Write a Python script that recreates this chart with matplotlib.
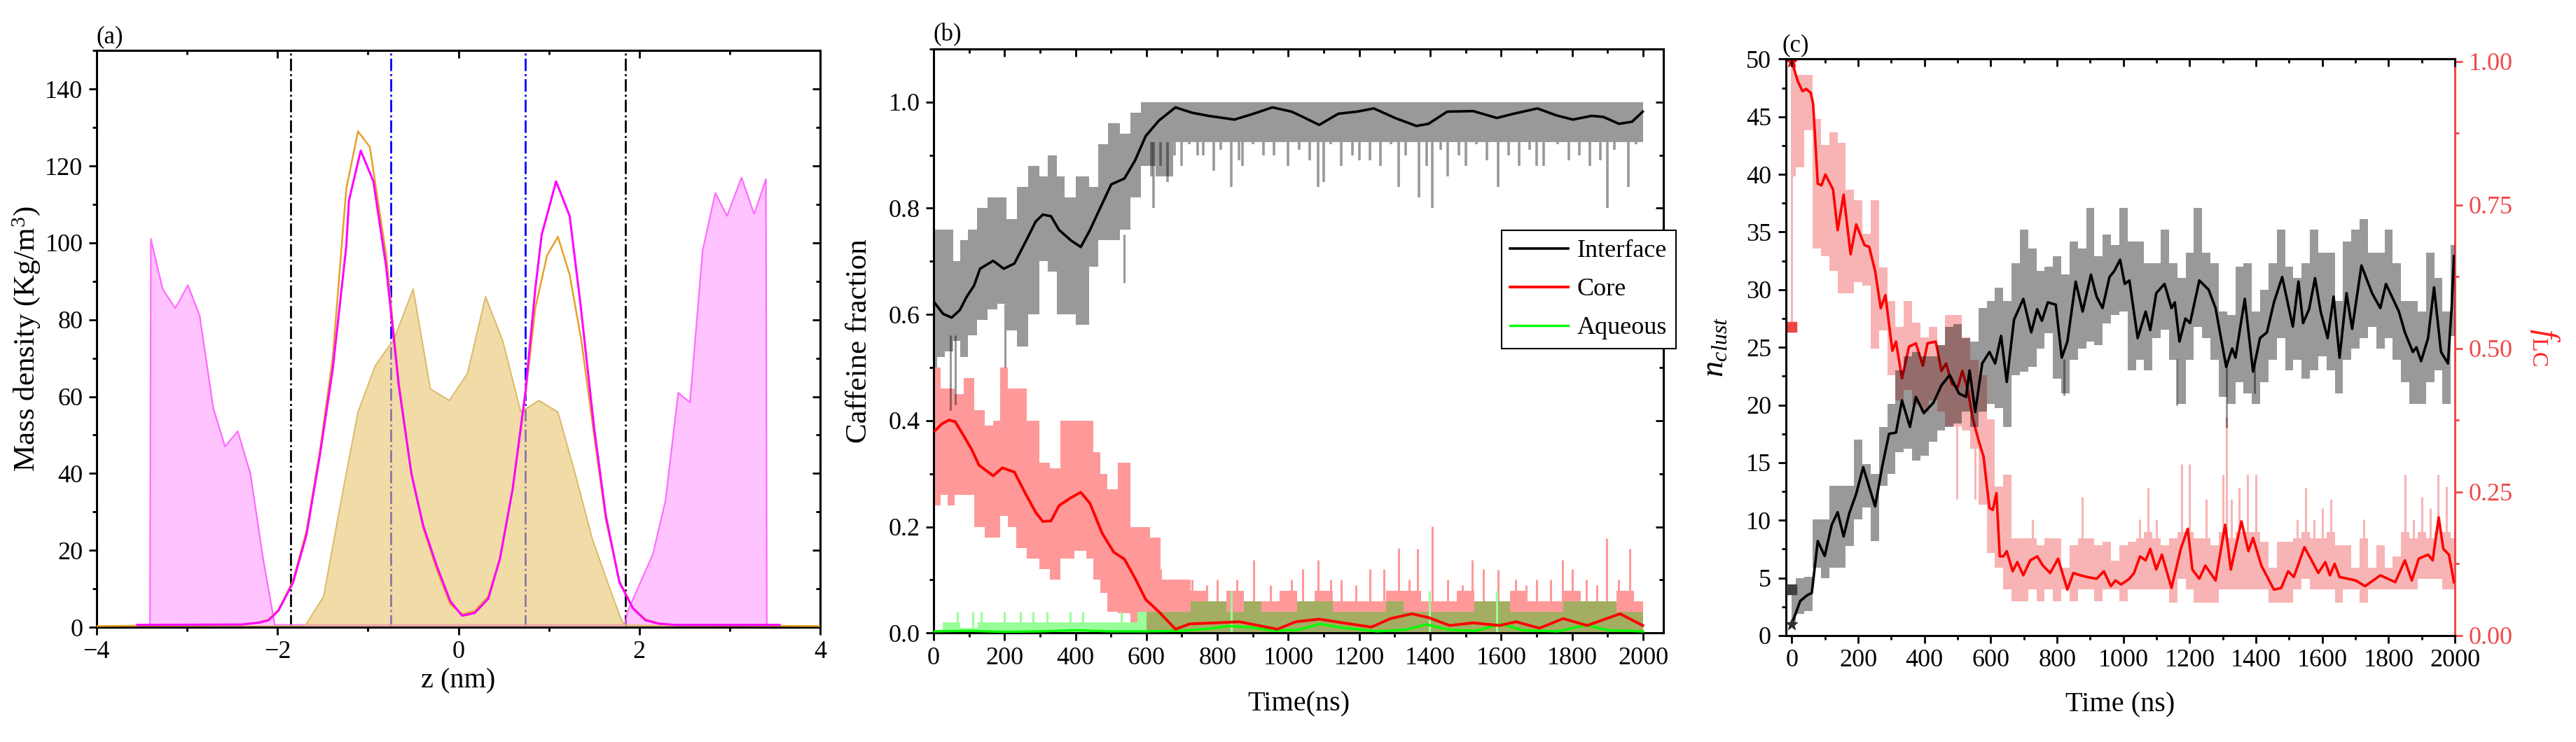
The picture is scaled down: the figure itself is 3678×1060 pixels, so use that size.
import numpy as np
import matplotlib
matplotlib.use('Agg')
import matplotlib.pyplot as plt
from matplotlib.ticker import MultipleLocator, NullFormatter
from matplotlib.lines import Line2D

plt.rcParams['font.family'] = ['Liberation Serif', 'DejaVu Serif']
plt.rcParams['mathtext.fontset'] = 'custom'
plt.rcParams['mathtext.rm'] = 'Liberation Serif'
plt.rcParams['mathtext.it'] = 'Liberation Serif:italic'

# ---------------- panel (a): mass density profiles ----------------
PINK_Z = [-3.55, -3.41, -3.40, -3.27, -3.13, -2.99, -2.86, -2.71, -2.58, -2.44, -2.30, -2.16, -2.03,
          -1.90, 1.84, 1.87, 1.99, 2.15, 2.29, 2.43, 2.56, 2.70, 2.84, 2.97, 3.13, 3.27, 3.40, 3.41, 3.55]
PINK_RHO = [0.6, 0.6, 101, 88, 83, 89, 81, 57, 47, 51, 40, 18, 0.6,
            0.6, 0.6, 4, 10.5, 19, 33, 61, 58.5, 98, 113, 107, 117, 107.5, 116.6, 0.6, 0.6]

TAN_Z = [-4.0, -1.72, -1.69, -1.49, -1.32, -1.11, -0.92, -0.71, -0.50, -0.31, -0.10, 0.10, 0.30,
         0.49, 0.69, 0.89, 1.10, 1.29, 1.48, 1.69, 1.80, 1.84, 4.0]
TAN_RHO = [0.3, 0.3, 0.5, 8, 30, 56, 68, 75, 88, 62, 59, 66, 86,
           74.5, 56, 59, 56, 40, 23, 9, 2, 0.5, 0.3]

MAG_Z = [-3.55, -2.40, -2.20, -2.10, -1.99, -1.83, -1.68, -1.53, -1.39, -1.24, -1.21, -1.08, -0.94,
         -0.80, -0.66, -0.52, -0.39, -0.24, -0.09, 0.04, 0.18, 0.33, 0.46, 0.60, 0.74, 0.85, 0.92,
         1.08, 1.23, 1.35, 1.50, 1.63, 1.78, 1.93, 2.07, 2.22, 2.40, 3.55]
MAG_RHO = [0.6, 0.7, 1.2, 1.8, 4.3, 11.5, 24, 45, 67, 99, 111, 124, 116,
           94, 63, 40, 26.5, 16, 6.8, 3, 3.7, 7.4, 17.9, 36, 61, 88, 102,
           116, 107, 84, 52, 29, 11.7, 4.9, 1.8, 0.9, 0.6, 0.6]

ORA_Z = [-4.0, -2.40, -2.20, -2.10, -1.99, -1.83, -1.68, -1.53, -1.39, -1.24, -1.11, -0.98, -0.80,
         -0.66, -0.52, -0.39, -0.24, -0.09, 0.04, 0.18, 0.33, 0.46, 0.60, 0.74, 0.85, 0.98, 1.10,
         1.23, 1.36, 1.50, 1.63, 1.78, 1.93, 2.07, 2.22, 2.40, 4.0]
ORA_RHO = [0.3, 0.6, 1.3, 2, 4.5, 12, 25, 46, 70, 114, 129, 125, 97,
           64, 40, 26, 15, 6, 3.4, 4.2, 8, 18, 36, 60, 83, 96.7, 101.6,
           91.7, 74.5, 50, 28, 12, 5, 2, 1, 0.5, 0.3]

BLACK_VLINES = [-1.855, 1.843]
BLUE_VLINES = [-0.747, 0.74]

# ---------------- panel (b): caffeine fractions ----------------
T_INT = [4, 27, 51, 74, 94, 114, 131, 168, 198, 228, 261, 288, 308, 331, 354, 388, 415, 441, 468, 501,
         538, 568, 598, 635, 682, 728, 775, 848, 902, 955, 1009, 1041, 1087, 1141, 1194, 1241, 1301,
         1361, 1395, 1448, 1521, 1588, 1635, 1702, 1755, 1802, 1855, 1888, 1932, 1969, 1999]
INT_SMOOTH = [0.621, 0.601, 0.594, 0.608, 0.634, 0.654, 0.686, 0.701, 0.686, 0.696, 0.739, 0.775, 0.788,
              0.785, 0.759, 0.739, 0.727, 0.759, 0.798, 0.845, 0.856, 0.890, 0.936, 0.965, 0.990, 0.980,
              0.974, 0.967, 0.978, 0.990, 0.982, 0.972, 0.957, 0.978, 0.982, 0.988, 0.970, 0.955, 0.959,
              0.982, 0.983, 0.970, 0.978, 0.988, 0.975, 0.967, 0.974, 0.972, 0.959, 0.963, 0.982]
T_INT_ENV = [0, 20, 45, 65, 85, 110, 135, 170, 190, 220, 250, 285, 310, 335, 360, 380, 420, 455, 475,
             510, 540, 570, 600, 650, 700, 2000]
INT_UP = [0.76, 0.76, 0.76, 0.70, 0.74, 0.76, 0.80, 0.82, 0.82, 0.78, 0.84, 0.88, 0.86, 0.90, 0.86,
          0.82, 0.86, 0.84, 0.92, 0.96, 0.94, 0.98, 1.0, 1.0, 1.0, 1.0]
INT_LO = [0.50, 0.52, 0.53, 0.55, 0.52, 0.56, 0.59, 0.61, 0.62, 0.57, 0.54, 0.60, 0.70, 0.68, 0.60,
          0.60, 0.58, 0.69, 0.74, 0.74, 0.76, 0.82, 0.88, 0.86, 0.925, 0.925]
INT_SPIKE_T = [48, 62, 201, 538]
INT_SPIKE_LO = [0.42, 0.43, 0.50, 0.66]
INT_SPIKE_HI = [0.56, 0.56, 0.62, 0.75]
# dips below the dense band after 600 ns
INT_DIP_T = [615, 620, 640, 660, 680, 700, 720, 745, 760, 790, 810, 840, 860, 870, 900, 930, 960, 1000,
             1030, 1060, 1084, 1100, 1120, 1150, 1180, 1200, 1230, 1260, 1290, 1311, 1330, 1368, 1390,
             1405, 1430, 1450, 1480, 1500, 1530, 1560, 1591, 1620, 1650, 1680, 1700, 1720, 1760, 1790,
             1820, 1850, 1880, 1899, 1920, 1959, 1980]
INT_DIP_LO = [0.86, 0.80, 0.88, 0.85, 0.90, 0.88, 0.92, 0.90, 0.90, 0.87, 0.91, 0.84, 0.89, 0.88, 0.92,
              0.90, 0.90, 0.88, 0.91, 0.89, 0.84, 0.85, 0.92, 0.88, 0.90, 0.89, 0.89, 0.88, 0.92, 0.84,
              0.90, 0.82, 0.88, 0.80, 0.91, 0.86, 0.90, 0.88, 0.92, 0.89, 0.84, 0.90, 0.88, 0.91, 0.88,
              0.88, 0.92, 0.89, 0.90, 0.88, 0.89, 0.80, 0.91, 0.84, 0.92]

T_CORE = [4, 24, 44, 61, 88, 108, 128, 168, 194, 228, 261, 288, 308, 331, 354, 388, 415, 441, 475, 508,
          538, 568, 598, 635, 682, 722, 795, 862, 969, 1021, 1087, 1154, 1234, 1288, 1348, 1395, 1455,
          1521, 1595, 1642, 1708, 1775, 1842, 1935, 1999]
CORE_SMOOTH = [0.381, 0.394, 0.401, 0.398, 0.368, 0.345, 0.316, 0.296, 0.311, 0.303, 0.260, 0.227, 0.210,
               0.211, 0.240, 0.255, 0.265, 0.244, 0.188, 0.152, 0.139, 0.103, 0.063, 0.040, 0.007, 0.017,
               0.019, 0.021, 0.007, 0.021, 0.026, 0.019, 0.011, 0.027, 0.036, 0.029, 0.014, 0.019, 0.014,
               0.021, 0.009, 0.027, 0.014, 0.036, 0.014]
T_CORE_ENV = [0, 10, 30, 50, 70, 100, 130, 160, 175, 200, 220, 245, 280, 315, 340, 375, 420, 440, 460,
              480, 500, 540, 570, 600, 620, 660, 700, 750, 800, 850, 900, 950, 1000, 1050, 1100, 1150,
              1200, 1250, 1300, 1350, 1400, 1450, 1500, 1550, 1600, 1650, 1700, 1750, 1800, 1850, 1900,
              1950, 2000]
CORE_UP = [0.50, 0.50, 0.46, 0.46, 0.45, 0.48, 0.42, 0.39, 0.40, 0.50, 0.46, 0.46, 0.40, 0.32, 0.31,
           0.40, 0.40, 0.40, 0.34, 0.30, 0.27, 0.32, 0.20, 0.20, 0.18, 0.10, 0.10, 0.08, 0.06, 0.08,
           0.06, 0.06, 0.08, 0.06, 0.08, 0.06, 0.06, 0.06, 0.08, 0.08, 0.06, 0.06, 0.08, 0.06, 0.06,
           0.08, 0.06, 0.06, 0.08, 0.06, 0.06, 0.08, 0.06]
CORE_LO = [0.24, 0.24, 0.26, 0.24, 0.26, 0.26, 0.20, 0.18, 0.18, 0.22, 0.20, 0.16, 0.14, 0.12, 0.10,
           0.14, 0.155, 0.14, 0.10, 0.076, 0.04, 0.037, 0.02] + [0.0] * 30
CORE_SPIKE_T = [640, 700, 728, 770, 800, 855, 902, 950, 1009, 1040, 1084, 1120, 1150, 1190, 1230, 1270,
                1311, 1340, 1365, 1405, 1450, 1490, 1518, 1550, 1591, 1640, 1670, 1700, 1740, 1772, 1800,
                1840, 1870, 1898, 1930, 1962]
CORE_SPIKE_HI = [0.12, 0.10, 0.10, 0.09, 0.10, 0.10, 0.138, 0.09, 0.10, 0.12, 0.138, 0.10, 0.10, 0.09,
                 0.12, 0.12, 0.16, 0.10, 0.158, 0.201, 0.10, 0.09, 0.138, 0.12, 0.119, 0.10, 0.09, 0.10,
                 0.10, 0.138, 0.12, 0.10, 0.09, 0.178, 0.10, 0.158]

T_AQ_ENV = np.arange(0, 2001, 50)
AQ_UP = [0.00, 0.02, 0.01, 0.02, 0.02, 0.02, 0.02, 0.02, 0.02, 0.02, 0.02, 0.02, 0.04, 0.04, 0.04,
         0.06, 0.06, 0.04, 0.06, 0.04, 0.04, 0.06, 0.06, 0.04, 0.04, 0.04, 0.06, 0.04, 0.04, 0.04,
         0.04, 0.06, 0.06, 0.04, 0.04, 0.04, 0.06, 0.06, 0.06, 0.04, 0.04]
AQ_SPIKE_T = [67, 110, 135, 200, 245, 280, 320, 385, 420, 530, 840, 1398, 1588]
AQ_SPIKE_HI = [0.04, 0.04, 0.04, 0.04, 0.04, 0.04, 0.04, 0.04, 0.04, 0.04, 0.08, 0.08, 0.08]
T_AQ = [0, 100, 200, 300, 400, 500, 600, 700, 780, 830, 900, 960, 1030, 1090, 1150, 1250, 1330, 1390,
        1450, 1530, 1600, 1660, 1760, 1840, 1900, 2000]
AQ_SMOOTH = [0.003, 0.004, 0.002, 0.003, 0.005, 0.003, 0.003, 0.004, 0.008, 0.013, 0.010, 0.004, 0.006,
             0.017, 0.010, 0.003, 0.006, 0.016, 0.006, 0.004, 0.017, 0.005, 0.003, 0.015, 0.005, 0.003]

# ---------------- panel (c): cluster number and f_LC ----------------
T_N = [1, 25, 46, 60, 78, 99, 120, 138, 156, 173, 194, 215, 251, 272, 293, 314, 332, 356, 374, 398,
       427, 451, 476, 504, 525, 536, 553, 574, 596, 613, 631, 648, 670, 698, 722, 740, 754, 772, 796,
       814, 831, 856, 877, 902, 919, 937, 958, 972, 990, 1004, 1018, 1043, 1067, 1081, 1099, 1124, 1145,
       1155, 1169, 1187, 1201, 1229, 1257, 1278, 1310, 1328, 1338, 1366, 1391, 1412, 1433, 1454, 1479,
       1511, 1528, 1542, 1560, 1578, 1595, 1616, 1634, 1652, 1673, 1690, 1718, 1750, 1775, 1792, 1831,
       1849, 1873, 1884, 1898, 1919, 1937, 1958, 1979, 1990, 1997]
N_SMOOTH = [1.1, 3.0, 3.5, 3.7, 8.2, 6.9, 9.6, 10.7, 8.6, 10.6, 12.3, 14.6, 11.2, 14.6, 17.5, 17.6, 20.4,
            18.1, 20.7, 19.3, 20.2, 21.7, 22.6, 21.0, 20.7, 23.0, 19.4, 23.6, 24.6, 23.6, 26.0, 22.0,
            27.4, 29.2, 26.3, 28.3, 27.3, 28.9, 28.7, 24.1, 25.5, 30.7, 28.1, 31.3, 29.4, 28.4, 31.1,
            31.6, 32.6, 30.5, 30.8, 25.8, 28.1, 26.5, 29.7, 30.5, 28.4, 28.9, 25.5, 27.5, 27.1, 30.8,
            30.0, 28.4, 23.3, 24.9, 24.1, 29.2, 22.9, 25.8, 26.3, 28.9, 31.1, 26.8, 30.7, 27.1, 28.3,
            31.0, 28.1, 25.8, 29.4, 24.1, 29.7, 26.6, 32.1, 29.7, 28.4, 30.5, 28.1, 26.3, 24.6, 25.0,
            23.8, 25.8, 30.2, 24.6, 23.6, 28.4, 32.9]
T_C_ENV = np.arange(0, 2001, 25)
N_UP = [4.0, 5.0, 5.1, 10.1, 10.1, 13.0, 13.0, 13.0, 17.0, 14.9,
        14.0, 18.1, 20.1, 23.0, 24.2, 24.6, 24.2, 24.2, 25.2, 26.8,
        27.0, 25.8, 25.5, 28.4, 29.0, 30.2, 29.0, 32.3, 35.2, 33.6,
        31.6, 32.0, 32.9, 31.3, 34.2, 33.6, 37.1, 32.9, 34.8, 33.9,
        37.1, 34.2, 34.2, 32.3, 32.3, 35.2, 32.3, 31.0, 33.2, 37.1,
        33.2, 32.3, 28.1, 27.8, 32.0, 32.3, 28.1, 30.0, 32.3, 35.2,
        32.0, 31.0, 32.3, 35.2, 33.2, 33.2, 29.0, 34.2, 35.2, 36.1,
        33.2, 33.2, 35.2, 32.3, 29.0, 29.0, 28.1, 33.2, 31.0, 28.1,
        33.9]
N_LO = [1.0, 1.9, 2.1, 5.9, 5.0, 5.9, 5.9, 7.8, 10.1, 11.1,
        8.2, 13.0, 14.0, 15.9, 16.2, 15.2, 15.6, 16.8, 17.8, 18.1,
        18.4, 19.4, 18.1, 19.4, 20.1, 19.7, 18.1, 22.6, 22.9, 23.3,
        24.9, 26.2, 22.3, 21.0, 23.9, 24.9, 25.5, 25.2, 27.1, 27.8,
        28.1, 23.0, 23.9, 23.0, 25.8, 26.5, 23.9, 20.1, 23.9, 26.8,
        25.8, 23.9, 20.7, 20.1, 22.0, 21.0, 20.1, 22.0, 23.9, 25.8,
        23.0, 23.9, 22.3, 23.0, 24.2, 23.0, 21.0, 23.9, 24.9, 25.8,
        26.8, 24.9, 25.8, 23.9, 22.0, 20.1, 20.1, 22.0, 23.0, 20.1,
        26.0]
N_SPIKE_T = [820, 1160, 1310, 1395]
N_SPIKE_LO = [20.8, 20.0, 18.0, 21.0]
N_SPIKE_HI = [24.0, 24.0, 24.0, 24.0]

T_F = [1, 18, 32, 43, 57, 64, 78, 89, 101, 124, 138, 156, 177, 194, 219, 233, 251, 268, 282, 303,
       314, 332, 353, 374, 395, 409, 434, 451, 465, 483, 500, 514, 529, 546, 564, 578, 596, 606, 617,
       627, 638, 648, 666, 680, 698, 719, 740, 757, 779, 803, 831, 849, 870, 891, 919, 941, 962, 976,
       993, 1018, 1032, 1050, 1067, 1081, 1099, 1116, 1145, 1173, 1194, 1208, 1229, 1247, 1278, 1307,
       1324, 1356, 1377, 1391, 1416, 1454, 1476, 1497, 1514, 1546, 1588, 1609, 1623, 1637, 1652, 1701,
       1729, 1775, 1820, 1849, 1870, 1891, 1919, 1933, 1951, 1965, 1982, 1997]
F_SMOOTH = [0.997, 0.965, 0.948, 0.952, 0.945, 0.926, 0.787, 0.784, 0.803, 0.777,
            0.706, 0.768, 0.664, 0.716, 0.680, 0.677, 0.635, 0.570, 0.593, 0.496,
            0.512, 0.448, 0.503, 0.509, 0.470, 0.509, 0.512, 0.461, 0.474, 0.438,
            0.432, 0.461, 0.432, 0.377, 0.338, 0.312, 0.222, 0.219, 0.248, 0.138,
            0.138, 0.147, 0.112, 0.128, 0.105, 0.131, 0.138, 0.122, 0.109, 0.134,
            0.080, 0.109, 0.105, 0.102, 0.099, 0.112, 0.086, 0.096, 0.089, 0.099,
            0.109, 0.138, 0.131, 0.151, 0.115, 0.141, 0.083, 0.151, 0.186, 0.115,
            0.099, 0.122, 0.096, 0.193, 0.115, 0.199, 0.147, 0.170, 0.122, 0.080,
            0.083, 0.112, 0.102, 0.154, 0.109, 0.128, 0.105, 0.125, 0.102, 0.096,
            0.086, 0.105, 0.093, 0.131, 0.096, 0.134, 0.141, 0.131, 0.206, 0.151,
            0.141, 0.093]
F_UP = [1.0, 0.977, 0.977, 0.90, 0.855, 0.877, 0.858, 0.777, 0.758, 0.700,
        0.758, 0.641, 0.583, 0.538, 0.583, 0.545, 0.519, 0.538, 0.506, 0.558,
        0.558, 0.519, 0.480, 0.454, 0.377, 0.260, 0.280, 0.170,
        0.17, 0.17, 0.157, 0.17, 0.17, 0.118, 0.157, 0.17, 0.17, 0.157, 0.163, 0.131,
        0.157, 0.163, 0.17, 0.18, 0.17, 0.157, 0.17, 0.18, 0.18, 0.17,
        0.17, 0.157, 0.18, 0.17, 0.18, 0.18, 0.18, 0.163, 0.118, 0.163,
        0.163, 0.17, 0.18, 0.17, 0.17, 0.18, 0.157, 0.157, 0.118, 0.17,
        0.118, 0.157, 0.118, 0.138, 0.18, 0.17, 0.18, 0.17, 0.18, 0.18,
        0.17]
F_LO = [0.80, 0.816, 0.88, 0.674, 0.661, 0.635, 0.596, 0.596, 0.616, 0.609,
        0.500, 0.532, 0.454, 0.409, 0.428, 0.402, 0.390, 0.409, 0.390, 0.364,
        0.364, 0.357, 0.325, 0.228, 0.144, 0.118, 0.080, 0.060, 0.06, 0.08,
        0.06, 0.08, 0.06, 0.08, 0.06, 0.08, 0.08, 0.06, 0.08, 0.08,
        0.060, 0.080, 0.080, 0.080, 0.080, 0.080, 0.057, 0.099, 0.080, 0.057,
        0.057, 0.057, 0.080, 0.080, 0.080, 0.080, 0.080, 0.080, 0.057, 0.057,
        0.057, 0.080, 0.099, 0.080, 0.080, 0.080, 0.057, 0.080, 0.080, 0.057,
        0.080, 0.080, 0.080, 0.080, 0.080, 0.080, 0.099, 0.099, 0.099, 0.080,
        0.080]
F_SPIKE_T = [0, 497, 552, 725, 875, 1050, 1075, 1100, 1175, 1200, 1250, 1300, 1310, 1325, 1350, 1375,
             1400, 1525, 1550, 1575, 1600, 1625, 1725, 1850, 1875, 1900, 1925, 1950, 1975]
F_SPIKE_LO = [0.538, 0.238, 0.238, 0.12, 0.12, 0.12, 0.12, 0.12, 0.12, 0.12, 0.12, 0.12, 0.15, 0.12,
              0.12, 0.12, 0.12, 0.12, 0.12, 0.12, 0.12, 0.12, 0.12, 0.12, 0.12, 0.12, 0.12, 0.12, 0.12]
F_SPIKE_HI = [1.0, 0.40, 0.35, 0.202, 0.241, 0.202, 0.257, 0.202, 0.299, 0.299, 0.238, 0.280, 0.38,
              0.238, 0.257, 0.280, 0.280, 0.202, 0.257, 0.202, 0.222, 0.238, 0.202, 0.280, 0.202, 0.241,
              0.222, 0.280, 0.260]

TICK_FS = 26
LABEL_FS = 29
SPINE_LW = 2.2


def style(ax, xmaj, xmin, ymaj, ymin, mirror_y=True):
    for sp in ax.spines.values():
        sp.set_linewidth(SPINE_LW)
    ax.xaxis.set_major_locator(MultipleLocator(xmaj))
    ax.xaxis.set_minor_locator(MultipleLocator(xmin))
    ax.yaxis.set_major_locator(MultipleLocator(ymaj))
    ax.yaxis.set_minor_locator(MultipleLocator(ymin))
    ax.tick_params(which='both', direction='out', width=2.0, labelsize=TICK_FS,
                   top=False, right=False)
    ax.tick_params(which='major', length=8, pad=6)
    ax.tick_params(which='minor', length=4.5)
    # Origin-style mirrored ticks on the top (and right) pointing inwards
    top = ax.secondary_xaxis('top')
    top.xaxis.set_major_locator(MultipleLocator(xmaj))
    top.xaxis.set_minor_locator(MultipleLocator(xmin))
    top.xaxis.set_major_formatter(NullFormatter())
    top.tick_params(which='both', direction='in', width=2.0)
    top.tick_params(which='major', length=8)
    top.tick_params(which='minor', length=4.5)
    top.spines['top'].set_linewidth(SPINE_LW)
    if mirror_y:
        right = ax.secondary_yaxis('right')
        right.yaxis.set_major_locator(MultipleLocator(ymaj))
        right.yaxis.set_minor_locator(MultipleLocator(ymin))
        right.yaxis.set_major_formatter(NullFormatter())
        right.tick_params(which='both', direction='in', width=2.0)
        right.tick_params(which='major', length=8)
        right.tick_params(which='minor', length=4.5)
        right.spines['right'].set_linewidth(SPINE_LW)


fig = plt.figure(figsize=(36.78, 10.6), dpi=100)

# ---------- (a) ----------
ax_a = fig.add_axes([0.0375, 0.1547, 0.2809, 0.777])
for z in BLACK_VLINES:
    ax_a.axvline(z, color='black', lw=2.0, ls='-.', zorder=1)
for z in BLUE_VLINES:
    ax_a.axvline(z, color='#0000FF', lw=2.0, ls='-.', zorder=1)
ax_a.fill_between(PINK_Z, 0, PINK_RHO, color='#FF9DFF', alpha=0.6, lw=0, zorder=2)
ax_a.plot(PINK_Z, PINK_RHO, color='#FF55FF', lw=1.6, alpha=0.85, zorder=2)
ax_a.fill_between(TAN_Z, 0, TAN_RHO, color='#E9C56E', alpha=0.6, lw=0, zorder=2)
ax_a.plot(TAN_Z, TAN_RHO, color='#DDB868', lw=1.4, zorder=2)
ax_a.plot(ORA_Z, ORA_RHO, color='#E5A126', lw=1.8, zorder=3)
ax_a.plot(MAG_Z, MAG_RHO, color='#FF00FF', lw=2.2, zorder=4)
ax_a.set_xlim(-4, 4)
ax_a.set_ylim(0, 150)
style(ax_a, 2, 1, 20, 10)
ax_a.set_xlabel('z (nm)', fontsize=LABEL_FS, labelpad=4)
ax_a.set_ylabel('Mass density (Kg/m$^3$)', fontsize=31, labelpad=3)
ax_a.text(0.0, 1.004, '(a)', transform=ax_a.transAxes, ha='left', va='bottom', fontsize=25)

# ---------- (b) ----------
ax_b = fig.add_axes([0.3624, 0.147, 0.2833, 0.787])
ax_b.fill_between(T_CORE_ENV, CORE_LO, CORE_UP, step='mid', color='#FF9999', lw=0, zorder=1)
ax_b.vlines(CORE_SPIKE_T, 0.05, CORE_SPIKE_HI, color='#FF9999', lw=2.2, zorder=1)
aq_t = np.asarray(T_AQ_ENV)
aq_up = np.asarray(AQ_UP)
early = aq_t <= 600
late = aq_t >= 600
ax_b.fill_between(aq_t[early], 0, aq_up[early], step='mid', color='#99FF99', lw=0, zorder=2)
ax_b.fill_between(aq_t[late], 0, aq_up[late], step='mid', color='#A3AE62', lw=0, zorder=2)
ax_b.vlines(AQ_SPIKE_T, 0, AQ_SPIKE_HI, color='#99FF99', lw=2.2, zorder=2)
ax_b.fill_between(T_INT_ENV, INT_LO, INT_UP, step='mid', color='black', alpha=0.4, lw=0, zorder=3)
ax_b.vlines(INT_SPIKE_T, INT_SPIKE_LO, INT_SPIKE_HI, color='black', alpha=0.4, lw=2.2, zorder=3)
ax_b.vlines(INT_DIP_T, INT_DIP_LO, 0.925, color='black', alpha=0.4, lw=2.6, zorder=3)
ax_b.plot(T_AQ, AQ_SMOOTH, color='#00FF00', lw=2.4, zorder=4)
ax_b.plot(T_CORE, CORE_SMOOTH, color='#FF0000', lw=2.8, zorder=5)
ax_b.plot(T_INT, INT_SMOOTH, color='black', lw=2.6, zorder=6)
ax_b.set_xlim(0, 2057)
ax_b.set_ylim(0, 1.1)
style(ax_b, 200, 100, 0.2, 0.1)
ax_b.yaxis.set_major_formatter(plt.FuncFormatter(lambda v, p: f'{v:.1f}'))
ax_b.set_xlabel('Time(ns)', fontsize=LABEL_FS, labelpad=22)
ax_b.set_ylabel('Caffeine fraction', fontsize=31, labelpad=16)
ax_b.text(0.0, 1.004, '(b)', transform=ax_b.transAxes, ha='left', va='bottom', fontsize=25)
handles = [Line2D([], [], color='black', lw=2.6),
           Line2D([], [], color='#FF0000', lw=2.8),
           Line2D([], [], color='#00FF00', lw=2.4)]
leg = ax_b.legend(handles, ['Interface', 'Core', 'Aqueous'], loc='upper left',
                  bbox_to_anchor=(0.778, 0.689), fontsize=26, frameon=True, fancybox=False,
                  edgecolor='black', framealpha=1, borderpad=0.35, handlelength=2.3,
                  handletextpad=0.35, labelspacing=0.6, borderaxespad=0)
leg.get_frame().set_linewidth(1.5)

# ---------- (c) ----------
RED_AX = '#F04848'
ax_c = fig.add_axes([0.6933, 0.1434, 0.2597, 0.777])
ax_f = ax_c.twinx()
ax_c.set_zorder(ax_f.get_zorder() + 1)
ax_c.patch.set_visible(False)

ax_f.fill_between(T_C_ENV, F_LO, F_UP, step='mid', color='#F8B4B4', lw=0, zorder=1)
ax_f.vlines(F_SPIKE_T, F_SPIKE_LO, F_SPIKE_HI, color='#F8B4B4', lw=2.2, zorder=1)
ax_f.plot(T_F, F_SMOOTH, color='#FF0000', lw=2.6, zorder=3)
ax_f.plot([0], [0.538], marker='s', ms=10, color='#EE4444', ls='none', zorder=4)
ax_f.plot([0], [1.0], marker='*', ms=12, color='#FF0000', ls='none', zorder=4)

ax_c.fill_between(T_C_ENV, N_LO, N_UP, step='mid', color='black', alpha=0.4, lw=0, zorder=1)
ax_c.vlines(N_SPIKE_T, N_SPIKE_LO, N_SPIKE_HI, color='black', alpha=0.4, lw=2.2, zorder=1)
ax_c.plot(T_N, N_SMOOTH, color='black', lw=2.6, zorder=3)
ax_c.plot([0], [4.0], marker='s', ms=10, color='#404040', ls='none', zorder=4)
ax_c.plot([0], [1.0], marker='*', ms=12, color='#303030', ls='none', zorder=4)

ax_c.set_xlim(-18, 2000)
ax_c.set_ylim(0, 50)
ax_f.set_ylim(0, 1.004)
style(ax_c, 200, 100, 5, 2.5, mirror_y=False)
ax_c.tick_params(axis='y', which='major', pad=7)
ax_c.spines['right'].set_visible(False)
for sp in ax_f.spines.values():
    sp.set_visible(False)
ax_f.spines['right'].set_visible(True)
ax_f.spines['right'].set_color(RED_AX)
ax_f.spines['right'].set_linewidth(SPINE_LW)
ax_f.yaxis.set_major_locator(MultipleLocator(0.25))
ax_f.yaxis.set_minor_locator(MultipleLocator(0.125))
ax_f.yaxis.set_major_formatter(plt.FuncFormatter(lambda v, p: f'{v:.2f}'))
ax_f.tick_params(axis='y', which='both', direction='out', colors=RED_AX, width=2.0,
                 labelsize=TICK_FS, labelcolor=RED_AX)
ax_f.tick_params(axis='y', which='major', length=8, pad=6)
ax_f.tick_params(axis='y', which='minor', length=4.5)
ax_c.set_xlabel('Time (ns)', fontsize=LABEL_FS, labelpad=20)
ax_c.set_ylabel('$n_{clust}$', fontsize=33, labelpad=16)
ax_f.set_ylabel(r'$f_{\mathrm{LC}}$', fontsize=33, color='#FF2020', rotation=-90,
                va='bottom', labelpad=16)
ax_c.text(-0.006, 1.004, '(c)', transform=ax_c.transAxes, ha='left', va='bottom', fontsize=25)

fig.savefig('out.png', dpi=100)
